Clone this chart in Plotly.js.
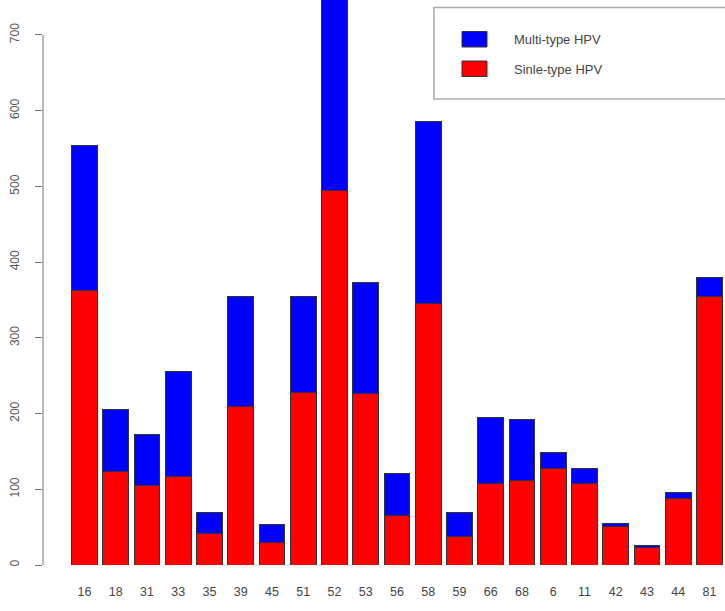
<!DOCTYPE html>
<html>
<head>
<meta charset="utf-8">
<script src="https://cdn.plot.ly/plotly-3.0.1.min.js"></script>
<style>
  html, body { margin: 0; padding: 0; background: #ffffff; }
  #chart { width: 725px; height: 611px; }
</style>
</head>
<body>
<div id="chart"></div>
<script>
// ---- data ----
var hpvTypes   = ["16","18","31","33","35","39","45","51","52","53","56","58","59","66","68","6","11","42","43","44","81"];
var singleType = [362,124,105,117,42,209,30,228,494,227,65,346,37,108,112,127,108,51,23,88,355];
var multiType  = [192,81,67,138,28,145,24,127,290,146,56,240,33,87,80,21,19,4,3,8,25];
var yTickVals  = [0,100,200,300,400,500,600,700];
var seriesNames = ["Multi-type HPV", "Sinle-type HPV"];
var seriesColors = ["#0000FF", "#FF0000"];

// ---- geometry (pixels) ----
var W = 725, H = 611;
var L = 43, R = 0, T = 0, B = 46;
var plotW = W - L - R, plotH = H - T - B;
function px(x) { return (x - L) / plotW; }
function py(y) { return (H - B - y) / plotH; }

var font = "Liberation Sans, Arial, Helvetica, sans-serif";

var traces = [
  {
    type: "bar",
    name: seriesNames[1],
    x: hpvTypes,
    y: singleType,
    marker: { color: seriesColors[1], line: { color: "#333333", width: 1 } },
    showlegend: false,
    hoverinfo: "x+y+name"
  },
  {
    type: "bar",
    name: seriesNames[0],
    x: hpvTypes,
    y: multiType,
    marker: { color: seriesColors[0], line: { color: "#333333", width: 1 } },
    showlegend: false,
    hoverinfo: "x+y+name"
  }
];

var layout = {
  width: W, height: H,
  margin: { l: L, r: R, t: T, b: B, pad: 0 },
  paper_bgcolor: "#ffffff",
  plot_bgcolor: "#ffffff",
  barmode: "stack",
  bargap: 0.17,
  font: { family: font, color: "#444444" },
  xaxis: {
    type: "category",
    range: [-1.328, 20.496],
    showgrid: false, zeroline: false, showline: false,
    ticks: "",
    ticklabelstandoff: 17,
    tickfont: { size: 12.5, color: "#444444", family: font },
    fixedrange: true
  },
  yaxis: {
    range: [0, 746.2],
    tickvals: yTickVals,
    ticktext: yTickVals.map(String),
    tickangle: -90,
    ticks: "outside", ticklen: 7, tickwidth: 1, tickcolor: "#777777",
    ticklabelstandoff: 11,
    showgrid: false, zeroline: false, showline: false,
    tickfont: { size: 12, color: "#555555", family: font },
    fixedrange: true
  },
  shapes: [
    // y axis line only over the tick span (0..700)
    { type: "line", xref: "paper", yref: "y", x0: 0, x1: 0,
      y0: yTickVals[0], y1: yTickVals[yTickVals.length - 1],
      line: { color: "#777777", width: 1 } },
    // legend box
    { type: "rect", xref: "paper", yref: "paper",
      x0: px(434), x1: px(760), y0: py(99), y1: py(7.5),
      line: { color: "#aaaaaa", width: 1.5 }, fillcolor: "rgba(255,255,255,0)" },
    // legend swatches
    { type: "rect", xref: "paper", yref: "paper",
      x0: px(462), x1: px(487), y0: py(47), y1: py(31.5),
      line: { color: "#333333", width: 1 }, fillcolor: seriesColors[0] },
    { type: "rect", xref: "paper", yref: "paper",
      x0: px(462), x1: px(487), y0: py(76.5), y1: py(61),
      line: { color: "#333333", width: 1 }, fillcolor: seriesColors[1] }
  ],
  annotations: [
    { xref: "paper", yref: "paper", x: px(512), y: py(39.5), xanchor: "left", yanchor: "middle",
      text: seriesNames[0], showarrow: false,
      font: { size: 13, color: "#444444", family: font } },
    { xref: "paper", yref: "paper", x: px(512), y: py(69.5), xanchor: "left", yanchor: "middle",
      text: seriesNames[1], showarrow: false,
      font: { size: 13, color: "#444444", family: font } }
  ]
};

Plotly.newPlot("chart", traces, layout, { displayModeBar: false, staticPlot: true });
</script>
</body>
</html>
